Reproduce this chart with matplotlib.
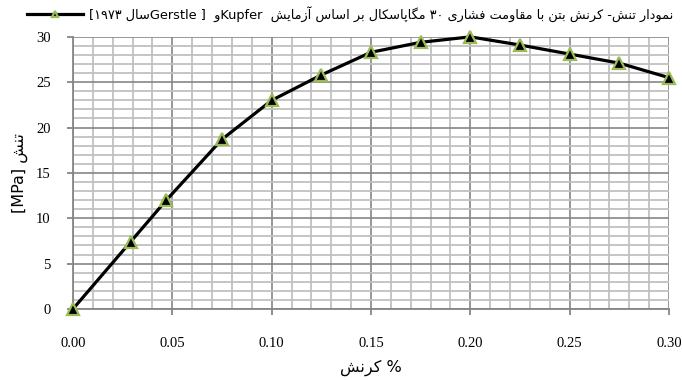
import matplotlib
matplotlib.use('Agg')
import matplotlib.pyplot as plt
from matplotlib.ticker import MultipleLocator, FormatStrFormatter

# stress-strain data for 30 MPa concrete (Kupfer & Gerstle, 1973)
strain = [0.0, 0.029, 0.047, 0.075, 0.100, 0.125, 0.150, 0.175, 0.200, 0.225, 0.250, 0.275, 0.300]
stress = [0.0, 7.4, 12.0, 18.7, 23.0, 25.8, 28.3, 29.4, 30.0, 29.1, 28.1, 27.1, 25.5]

title_words = ['نمودار', 'تنش-', 'کرنش', 'بتن', 'با', 'مقاومت', 'فشاری', '۳۰', 'مگاپاسکال', 'بر', 'اساس', 'آزمایش']
xlabel_word = 'کرنش'
ylabel_word = 'تنش'

# contextual presentation forms: isolated, final, initial, medial
FORMS = {
    'ا': ('\uFE8D', '\uFE8E'), 'آ': ('\uFE81', '\uFE82'), 'د': ('\uFEA9', '\uFEAA'),
    'ر': ('\uFEAD', '\uFEAE'), 'ز': ('\uFEAF', '\uFEB0'), 'و': ('\uFEED', '\uFEEE'),
    'ب': ('\uFE8F', '\uFE90', '\uFE91', '\uFE92'), 'پ': ('\uFB56', '\uFB57', '\uFB58', '\uFB59'),
    'ت': ('\uFE95', '\uFE96', '\uFE97', '\uFE98'), 'س': ('\uFEB1', '\uFEB2', '\uFEB3', '\uFEB4'),
    'ش': ('\uFEB5', '\uFEB6', '\uFEB7', '\uFEB8'), 'ف': ('\uFED1', '\uFED2', '\uFED3', '\uFED4'),
    'ق': ('\uFED5', '\uFED6', '\uFED7', '\uFED8'), 'ک': ('\uFB8E', '\uFB8F', '\uFB90', '\uFB91'),
    'گ': ('\uFB92', '\uFB93', '\uFB94', '\uFB95'), 'ل': ('\uFEDD', '\uFEDE', '\uFEDF', '\uFEE0'),
    'م': ('\uFEE1', '\uFEE2', '\uFEE3', '\uFEE4'), 'ن': ('\uFEE5', '\uFEE6', '\uFEE7', '\uFEE8'),
    'ی': ('\uFBFC', '\uFBFD', '\uFBFE', '\uFBFF'),
}


def shape(word):
    """Return a Persian word in visual (left-to-right) order with joined letter forms."""
    if all(c not in FORMS for c in word):
        return word
    out = []
    for i, c in enumerate(word):
        if c not in FORMS:
            out.append(c)
            continue
        prev = word[i - 1] if i > 0 else None
        nxt = word[i + 1] if i + 1 < len(word) else None
        join_prev = prev in FORMS and len(FORMS[prev]) == 4
        join_next = nxt in FORMS and len(FORMS[c]) == 4
        f = FORMS[c]
        if join_prev and join_next:
            out.append(f[3])
        elif join_prev:
            out.append(f[1])
        elif join_next:
            out.append(f[2])
        else:
            out.append(f[0])
    return ''.join(out)[::-1]


title_fa = ' '.join(shape(w) for w in reversed(title_words))
legend_text = '[۱۹۷۳ ' + shape('سال') + 'Gerstle ]  ' + shape('و') + 'Kupfer  ' + title_fa

fig = plt.figure(figsize=(6.82, 3.80), dpi=100)
ax = fig.add_axes([0.107, 0.187, 0.874, 0.716])

major_c = '#868686'
minor_c = '#C0C0C0'

ax.plot(strain, stress, color='black', linewidth=2.3, marker='^', markersize=8,
        markerfacecolor='black', markeredgecolor='#9BBB59', markeredgewidth=1.6,
        label=legend_text, zorder=5, clip_on=False)

ax.set_xlim(0, 0.30)
ax.set_ylim(0, 30)
ax.xaxis.set_major_locator(MultipleLocator(0.05))
ax.xaxis.set_minor_locator(MultipleLocator(0.01))
ax.yaxis.set_major_locator(MultipleLocator(5))
ax.yaxis.set_minor_locator(MultipleLocator(1))
ax.xaxis.set_major_formatter(FormatStrFormatter('%.2f'))

ax.grid(which='minor', color=minor_c, linewidth=1.3)
ax.grid(which='major', color=major_c, linewidth=1.2)
ax.set_axisbelow(True)

for side in ['top', 'right']:
    ax.spines[side].set_visible(False)
for side in ['left', 'bottom']:
    ax.spines[side].set_color(major_c)
    ax.spines[side].set_linewidth(1.3)

ax.tick_params(which='major', direction='out', length=4, width=1.3, color=major_c)
ax.tick_params(which='minor', length=0)
ax.tick_params(axis='x', pad=16)
ax.tick_params(axis='y', pad=12)
for lab in ax.get_xticklabels() + ax.get_yticklabels():
    lab.set_fontfamily('Liberation Serif')
    lab.set_fontsize(10.5)

ax.set_xlabel(shape(xlabel_word) + ' %', fontsize=11.5, family='DejaVu Sans', labelpad=7)
ax.set_ylabel('[MPa] ' + shape(ylabel_word), fontsize=11.5, family='DejaVu Sans', labelpad=6)

ax.legend(loc='center right', bbox_to_anchor=(1.012, 1.085), frameon=False,
          prop={'family': 'DejaVu Sans', 'size': 9.3}, handlelength=4.3,
          handletextpad=0.5, borderaxespad=0, borderpad=0.2, markerscale=0.6)

fig.savefig('out.png', dpi=100)
